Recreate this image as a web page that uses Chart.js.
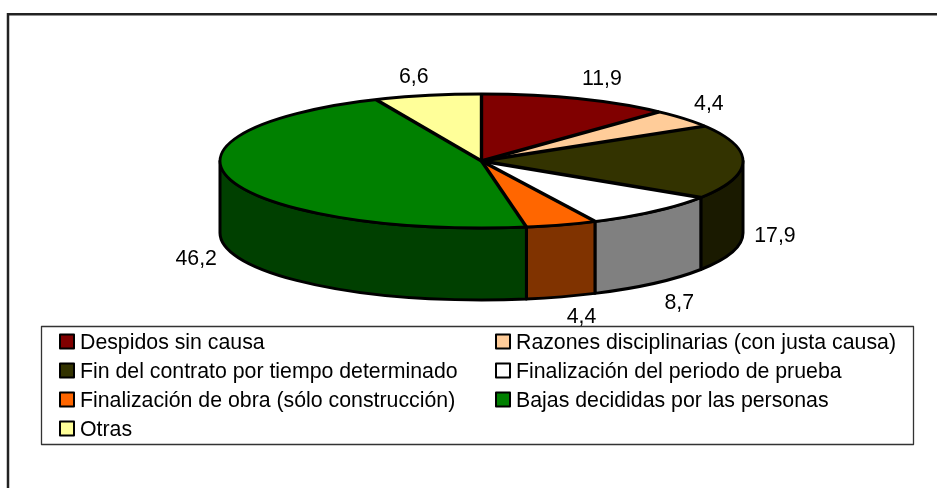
<!DOCTYPE html>
<html>
<head>
<meta charset="utf-8">
<style>
html,body{margin:0;padding:0;background:#fff}
canvas{display:block}
</style>
<script src="https://cdn.jsdelivr.net/npm/chart.js@4"></script>
</head>
<body>
<canvas id="c" width="937" height="488"></canvas>
<script>
const categories = [
  "Despidos sin causa",
  "Razones disciplinarias (con justa causa)",
  "Fin del contrato por tiempo determinado",
  "Finalización del periodo de prueba",
  "Finalización de obra (sólo construcción)",
  "Bajas decididas por las personas",
  "Otras"
];
const values = [11.9, 4.4, 17.9, 8.7, 4.4, 46.2, 6.6];
const topColors = ["#800000", "#FFCC99", "#333300", "#FFFFFF", "#FF6600", "#008000", "#FFFF99"];
const sideColors = ["#400000", "#806633", "#1A1A00", "#808080", "#803300", "#004000", "#808033"];
const labelNudges = [[25,-13.6],[25,-8.7],[32,7.7],[25,26],[20,26],[-35,13],[-14,-12.5]];

const FONT = '"Liberation Sans", Arial, sans-serif';
const FONT_SIZE = 21.3;
const STRETCH = 261.5 / 67;
const DEPTH = 72;

function geom(chart) {
  const arcs = chart.getDatasetMeta(0).data;
  const a0 = arcs[0];
  return { arcs, cx: a0.x, cy: a0.y, ry: a0.outerRadius, rx: a0.outerRadius * STRETCH };
}

const pie3d = {
  id: "pie3d",
  beforeDatasetsDraw(chart) {
    const { ctx } = chart;
    const { arcs, cx, cy, rx, ry } = geom(chart);
    // frame
    ctx.save();
    ctx.strokeStyle = "#222";
    ctx.lineWidth = 2.5;
    ctx.beginPath();
    ctx.moveTo(8, 488);
    ctx.lineTo(8, 14.25);
    ctx.lineTo(937, 14.25);
    ctx.stroke();
    ctx.restore();
    // extruded rim: only the front half of the ellipse is visible
    ctx.save();
    ctx.lineJoin = "round";
    arcs.forEach((arc, i) => {
      const s = Math.max(arc.startAngle, 0);
      const e = Math.min(arc.endAngle, Math.PI);
      if (e <= s) return;
      ctx.beginPath();
      ctx.ellipse(cx, cy, rx, ry, 0, s, e, false);
      ctx.ellipse(cx, cy + DEPTH, rx, ry, 0, e, s, true);
      ctx.closePath();
      ctx.fillStyle = sideColors[i];
      ctx.fill();
      ctx.strokeStyle = "#000";
      ctx.lineWidth = 3;
      ctx.stroke();
    });
    ctx.restore();
    // the library fills the top faces, stretched into an ellipse
    ctx.save();
    ctx.translate(cx, 0);
    ctx.scale(STRETCH, 1);
    ctx.translate(-cx, 0);
  },
  afterDatasetsDraw(chart) {
    const { ctx } = chart;
    ctx.restore();
    const { arcs, cx, cy, rx, ry } = geom(chart);
    ctx.save();
    ctx.strokeStyle = "#000";
    ctx.lineJoin = "round";
    // top-face outlines
    ctx.lineWidth = 3.4;
    arcs.forEach(arc => {
      ctx.beginPath();
      ctx.moveTo(cx, cy);
      ctx.lineTo(cx + rx * Math.cos(arc.startAngle), cy + ry * Math.sin(arc.startAngle));
      ctx.stroke();
    });
    ctx.lineWidth = 2.8;
    ctx.beginPath();
    ctx.ellipse(cx, cy, rx, ry, 0, 0, Math.PI * 2);
    ctx.stroke();
    // value labels
    ctx.fillStyle = "#000";
    ctx.font = FONT_SIZE + "px " + FONT;
    ctx.textAlign = "center";
    ctx.textBaseline = "alphabetic";
    arcs.forEach((arc, i) => {
      const mid = (arc.startAngle + arc.endAngle) / 2;
      const front = Math.sin(mid) >= -0.02;
      const x = cx + rx * Math.cos(mid) + labelNudges[i][0];
      const y = cy + ry * Math.sin(mid) + (front ? DEPTH : 0) + labelNudges[i][1];
      ctx.fillText(values[i].toFixed(1).replace(".", ","), x, y);
    });
    // legend box
    const box = { l: 41.5, t: 326.5, r: 913.5, b: 444.5 };
    ctx.strokeStyle = "#333";
    ctx.lineWidth = 1.3;
    ctx.fillStyle = "#fff";
    ctx.beginPath();
    ctx.rect(box.l, box.t, box.r - box.l, box.b - box.t);
    ctx.fill();
    ctx.stroke();
    const colX = [60, 496];
    const rowY = [341.5, 370.5, 399.5, 428.5];
    ctx.textAlign = "left";
    categories.forEach((name, i) => {
      const col = i % 2, row = Math.floor(i / 2);
      const sx = colX[col], sy = rowY[row];
      ctx.fillStyle = topColors[i];
      ctx.strokeStyle = "#000";
      ctx.lineWidth = 2;
      ctx.fillRect(sx, sy - 7, 14, 14);
      ctx.strokeRect(sx, sy - 7, 14, 14);
      ctx.fillStyle = "#000";
      ctx.font = FONT_SIZE + "px " + FONT;
      ctx.fillText(name, sx + 20, sy + 7.5);
    });
    ctx.restore();
  }
};

new Chart(document.getElementById("c"), {
  type: "pie",
  data: {
    labels: categories,
    datasets: [{ data: values, backgroundColor: topColors, borderWidth: 0 }]
  },
  plugins: [pie3d],
  options: {
    responsive: false,
    animation: false,
    layout: { padding: { top: 94, bottom: 260, left: 100, right: 74 } },
    plugins: { legend: { display: false }, tooltip: { enabled: false } }
  }
});
</script>
</body>
</html>
